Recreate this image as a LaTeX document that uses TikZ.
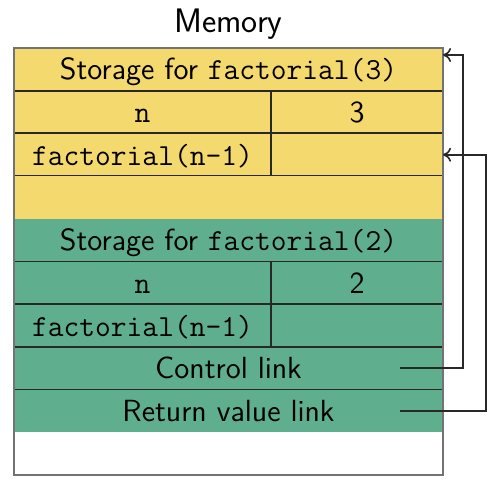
\documentclass[tikz,border=0pt]{standalone}
\usepackage{fontspec}
\usepackage{tikz}
\usetikzlibrary{arrows.meta, positioning, calc}
\definecolor{frameyellow}{RGB}{244,217,110}
\definecolor{framegreen}{RGB}{95,174,142}
\definecolor{linedark}{RGB}{40,40,40}
\definecolor{bordergray}{RGB}{115,115,115}

\begin{document}
\begin{tikzpicture}[
        >={Computer Modern Rightarrow[length=4pt, width=7pt]},
        font=\sffamily\fontsize{15.3}{18}\selectfont,
        line width=0.9pt,
        row/.style={rectangle, minimum width=214.5pt, minimum height=21.35pt, inner sep=0pt, outer sep=0pt, text height=12.6pt, text depth=2pt},
        keycell/.style={rectangle, draw=linedark, minimum width=128.5pt, minimum height=21.35pt, inner sep=0pt, outer sep=0pt, text height=12.6pt, text depth=2pt},
        valcell/.style={keycell, minimum width=86pt},
        link/.style={->, draw=linedark, line width=0.8pt}
    ]
    \useasboundingbox (0,0) rectangle (247.5pt,-242.5pt);

    % --- Frame of factorial(3) ---
    \node (hdr3) [row, fill=frameyellow, anchor=north west] at (7pt,-24pt) {Storage for \texttt{factorial(3)}};
    \node (n3key) [keycell, fill=frameyellow, below right=0pt and 0pt of hdr3.south west] {\texttt{n}};
    \node (n3val) [valcell, fill=frameyellow, right=0pt of n3key] {3};
    \node (f3key) [keycell, fill=frameyellow, below=0pt of n3key] {\texttt{factorial(n-1)}};
    \node (f3val) [valcell, fill=frameyellow, right=0pt of f3key] {};
    \node (gap3) [row, fill=frameyellow, below right=0pt and 0pt of f3key.south west] {};

    % --- Frame of factorial(2) ---
    \node (hdr2) [row, fill=framegreen, below=0pt of gap3] {Storage for \texttt{factorial(2)}};
    \node (n2key) [keycell, fill=framegreen, below right=0pt and 0pt of hdr2.south west] {\texttt{n}};
    \node (n2val) [valcell, fill=framegreen, right=0pt of n2key] {2};
    \node (f2key) [keycell, fill=framegreen, below=0pt of n2key] {\texttt{factorial(n-1)}};
    \node (f2val) [valcell, fill=framegreen, right=0pt of f2key] {};
    \node (ctl) [row, draw=linedark, fill=framegreen, below right=0pt and 0pt of f2key.south west] {Control link};
    \node (ret) [row, fill=framegreen, below=0pt of ctl] {Return value link};
    \node (free) [row, fill=white, below=0pt of ret] {};

    % --- Outer border and title ---
    \draw[bordergray, line width=1pt] (hdr3.north west) rectangle (free.south east);
    \node (memtitle) [above=0.5pt of hdr3, font=\sffamily\fontsize{17}{20}\selectfont] {Memory};

    % --- Links ---
    \coordinate (ctlfrom) at ($(ctl.east)+(-21.5pt,0)$);
    \coordinate (ctlto) at ($(hdr3.north east)+(0,-3.5pt)$);
    \coordinate (retfrom) at ($(ret.east)+(-21.5pt,0)$);
    \draw[link] (ctlfrom) -- ++(31.5pt,0) |- (ctlto);
    \draw[link] (retfrom) -- ++(43pt,0) |- (f3val.east);

\end{tikzpicture}
\end{document}
